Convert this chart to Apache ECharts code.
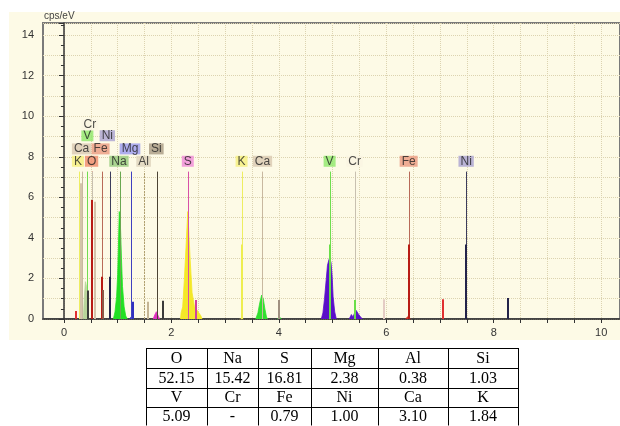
<!DOCTYPE html>
<html><head><meta charset="utf-8">
<script src="https://cdn.jsdelivr.net/npm/echarts@6/dist/echarts.min.js"></script>
<style>html,body{margin:0;padding:0;background:#fff}#c{width:620px;height:426px}</style>
</head><body><div id="c"></div>
<script>
// ---------------- data ----------------
const xTickValues = [0,0.5,1,1.5,2,2.5,3,3.5,4,4.5,5,5.5,6,6.5,7,7.5,8,8.5,9,9.5,10];
const xLabelValues = [0,2,4,6,8,10];
const yAxisUnit = 'cps/eV';

// element marker lines (keV)
const markerElem = ['K','Ca','V','O','Cr','Fe','Ni','Na','Mg','Al','Si','S','K','Ca','V','Cr','Fe','Ni'];
const markerKeV  = [0.28,0.33,0.43,0.515,0.53,0.705,0.85,1.05,1.248,1.483,1.73,2.305,3.306,3.695,4.945,5.41,6.416,7.486];
const markerTop  = 7.27;
// marker label anchors (keV, cps)
const labelKeV = [0.26,0.328,0.436,0.514,0.482,0.682,0.807,1.024,1.229,1.483,1.719,2.305,3.306,3.695,4.945,5.41,6.416,7.486];
const labelCps = [7.78,8.39,9.04,7.78,9.57,8.39,9.04,7.78,8.39,7.78,8.39,7.78,7.78,7.78,7.78,7.78,7.78,7.78];

// narrow spectrum spikes
const spikeKeV  = [0.22,0.315,0.45,0.515,0.57,0.705,0.73,0.85,1.28,1.565,1.835,2.45,3.306,4.005,4.945,5.41,5.95,6.416,7.06,7.486,8.27];
const spikeCps  = [0.40,6.69,1.40,5.87,5.78,2.09,1.43,2.09,0.85,0.85,0.90,0.94,3.68,0.94,3.68,0.94,0.97,3.68,0.97,3.68,1.03];
const spikeTone = ['red','beige','dark','darkred','beige','darkred','brown','navy','blue','tan','dark','magenta','yellow','gray','green','green','pale','darkred','red','navy','navy'];

// filled peaks [keV, cps]
const lowHump = [[0.36,0],[0.38,1.1],[0.40,1.84],[0.42,1.6],[0.44,0.5],[0.46,0]];
const naPeak  = [[0.92,0],[0.95,0.35],[0.98,1.1],[1.0,2.2],[1.015,3.7],[1.03,5.3],[1.05,4.7],[1.07,3.0],[1.09,1.6],[1.12,0.6],[1.15,0.15],[1.18,0]];
const mgHump  = [[1.22,0],[1.25,0.1],[1.28,0]];
const siHump  = [[1.66,0],[1.69,0.2],[1.72,0.36],[1.75,0.3],[1.78,0]];
const sPeak   = [[2.17,0],[2.18,0.3],[2.21,0.6],[2.24,1.9],[2.275,3.7],[2.305,5.3],[2.35,2.9],[2.385,1.3],[2.43,0.6],[2.46,0.5],[2.49,0.5],[2.55,0.15],[2.57,0]];
const kPeak   = [[3.27,0],[3.30,0.08],[3.34,0]];
const caPeak  = [[3.57,0],[3.61,0.3],[3.645,0.8],[3.68,1.18],[3.71,1.0],[3.74,0.5],[3.77,0.1],[3.79,0]];
const caBeta  = [[3.97,0],[4.01,0.1],[4.05,0]];
const vPeak   = [[4.79,0],[4.82,0.3],[4.85,1.0],[4.88,1.9],[4.905,2.65],[4.94,3.0],[4.97,2.8],[4.99,2.2],[5.01,1.1],[5.04,0.35],[5.07,0]];
const crPeak  = [[5.31,0],[5.35,0.22],[5.38,0.1],[5.41,0.3],[5.44,0.42],[5.48,0.25],[5.52,0.1],[5.56,0]];
const fePeak  = [[6.36,0],[6.40,0.12],[6.45,0]];

// composition table
const tableHead1 = ['O','Na','S','Mg','Al','Si'];
const tableVal1  = ['52.15','15.42','16.81','2.38','0.38','1.03'];
const tableHead2 = ['V','Cr','Fe','Ni','Ca','K'];
const tableVal2  = ['5.09','-','0.79','1.00','3.10','1.84'];

// ---------------- styles ----------------
const lineColor = {K:'#eeee60',Ca:'#c8b8a0',V:'#70dd50',O:'#d83838',Cr:'#c8c0b0',Fe:'#b86a58',Ni:'#3c3c5c',Na:'#6aa850',Mg:'#4040c0',Al:'#b0a070',Si:'#4c4434',S:'#d850a8'};
const labelBg   = {K:'#f6f07c',Ca:'#d9c9b1',V:'#8ee86a',O:'#f08a6a',Cr:'#faf5e2',Fe:'#eb9a80',Ni:'#aaa2d2',Na:'#96cc7c',Mg:'#9a9af0',Al:'#ddd3bb',Si:'#a89a82',S:'#f08ad8'};
const toneColor = {red:'#e03030',beige:'#d4c4aa',dark:'#3a3a3a',darkred:'#b81c14',brown:'#8a5a48',navy:'#23234a',blue:'#3030c0',tan:'#c4b494',magenta:'#d040a0',yellow:'#eeee50',gray:'#a09080',green:'#6ade48',pale:'#e4ccc4'};
const peakDefs = [
  [lowHump,'#b8d49a'],[naPeak,'#22e022'],[mgHump,'#3030c0'],[siHump,'#e030c0'],[sPeak,'#f4e828'],
  [kPeak,'#e0d040'],[caPeak,'#30e030'],[caBeta,'#30d030'],[vPeak,'#5a10c8'],[crPeak,'#5a10c8'],[fePeak,'#d03020']
];
const cream = '#fdfae6';
const gridDot = '#dcd3b0';
const axisCol = '#333';
const font = 'Liberation Sans, Arial, sans-serif';
const colX = [146,207,258,311,378,448,518];
const rowY = [348,368,387.5,406.5,425.5];

// ---------------- build ----------------
const chart = echarts.init(document.getElementById('c'), null, {renderer:'canvas'});

function vlineRenderer(getStyle){
  return function(params, api){
    const p0 = api.coord([api.value(0), 0]);
    const p1 = api.coord([api.value(0), api.value(1)]);
    const st = getStyle(params.dataIndex);
    const x = st.lineWidth % 2 === 1 ? Math.round(p0[0]) + 0.5 : Math.round(p0[0]);
    return {type:'line', shape:{x1:x,y1:p0[1],x2:x,y2:p1[1]}, style:st};
  };
}

const series = [];
peakDefs.forEach(([d,c]) => {
  series.push({type:'line', data:d, showSymbol:false, symbol:'none', smooth:false,
    lineStyle:{color:c,width:0.8}, areaStyle:{color:c, opacity:1}, z:2, silent:true});
});
// marker lines
series.push({type:'custom', z:3, silent:true,
  data: markerKeV.map(k => [k, markerTop]),
  renderItem: vlineRenderer(i => ({stroke: lineColor[markerElem[i]], lineWidth:1,
      lineDash: markerElem[i]==='Al' ? [2,1] : null}))
});
// spikes
series.push({type:'custom', z:4, silent:true,
  data: spikeKeV.map((k,i) => [k, spikeCps[i]]),
  renderItem: vlineRenderer(i => ({stroke: toneColor[spikeTone[i]], lineWidth:2}))
});
// labels
series.push({type:'scatter', z:6, silent:true, symbolSize:1, itemStyle:{color:'rgba(0,0,0,0)'},
  labelLayout:{hideOverlap:false},
  data: labelKeV.map((k,i) => ({value:[k, labelCps[i]], name: markerElem[i],
     label:{backgroundColor: labelBg[markerElem[i]]}})),
  label:{show:true, position:'inside', formatter:p => p.name, color:'#222', fontSize:12,
     fontFamily:font, lineHeight:11, padding:[0,2,0,2]}
});

// table graphic
const tg = [];
const rows = [tableHead1, tableVal1, tableHead2, tableVal2];
rowY.forEach(y => tg.push({type:'line', shape:{x1:colX[0],y1:Math.round(y)+0.5,x2:colX[colX.length-1],y2:Math.round(y)+0.5}, style:{stroke:'#000',lineWidth:1}}));
colX.forEach(x => tg.push({type:'line', shape:{x1:x+0.5,y1:rowY[0],x2:x+0.5,y2:rowY[rowY.length-1]}, style:{stroke:'#000',lineWidth:1}}));
rows.forEach((r,ri) => r.forEach((t,ci) => tg.push({type:'text',
  x:(colX[ci]+colX[ci+1])/2, y:(rowY[ri]+rowY[ri+1])/2+1,
  style:{text:t, fill:'#000', font:'16px "Liberation Serif", "Times New Roman", serif', align:'center', verticalAlign:'middle'}})));

chart.setOption({
  animation:false,
  backgroundColor:'#fff',
  grid:{left:43, right:-2, top:23, bottom:107, show:true, borderColor:'#7a7a7a', borderWidth:2, backgroundColor:'transparent', containLabel:false},
  xAxis:{type:'value', min:-0.39, max:10.35,
    axisLine:{show:true, onZero:false, lineStyle:{color:axisCol, width:1.5}},
    axisTick:{show:true, customValues:xTickValues, length:4, lineStyle:{color:axisCol}},
    axisLabel:{customValues:xLabelValues, color:axisCol, fontSize:11, fontFamily:font, margin:8},
    splitLine:{show:true, lineStyle:{color:gridDot, type:'dotted', width:1}}
  },
  yAxis:[
    {type:'value', min:0, max:14.6, interval:2,
      axisLine:{show:true, lineStyle:{color:axisCol, width:1.5}},
      axisTick:{show:true, length:5, lineStyle:{color:axisCol}},
      minorTick:{show:true, splitNumber:4, length:3, lineStyle:{color:axisCol}},
      axisLabel:{color:axisCol, fontSize:11, fontFamily:font, margin:9, showMaxLabel:false},
      splitLine:{show:false}
    },
    {type:'value', min:0, max:14.6, interval:1, position:'right',
      axisLine:{show:false}, axisTick:{show:false}, axisLabel:{show:false},
      splitLine:{show:true, lineStyle:{color:gridDot, type:'dotted', width:1}}
    }
  ],
  graphic:[
    {type:'rect', z:-10, shape:{x:9,y:12,width:611,height:328}, style:{fill:cream}},
    {type:'text', left:44, top:11, style:{text:yAxisUnit, fill:'#444', font:'10px '+font}},
    {type:'group', children:tg}
  ],
  series: series
});
</script></body></html>
